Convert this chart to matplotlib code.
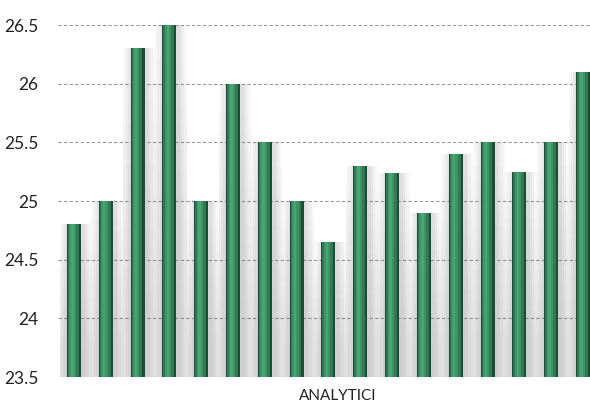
import matplotlib.pyplot as plt
import numpy as np

values = [24.8, 25.0, 26.3, 26.5, 25.0, 26.0, 25.5, 25.0, 24.65,
          25.3, 25.24, 24.9, 25.4, 25.5, 25.25, 25.5, 26.1]
yticks = [23.5, 24, 24.5, 25, 25.5, 26, 26.5]
ytick_labels = ["23.5", "24", "24.5", "25", "25.5", "26", "26.5"]
xlabel = "ANALYTICI"

plt.rcParams["font.family"] = ["Lato", "DejaVu Sans"]

fig = plt.figure(figsize=(5.9, 4.03), dpi=100)
ax = fig.add_axes([58 / 590, 26 / 403, 532 / 590, 352 / 403])

x = np.arange(len(values))
base = 23.5
heights = np.array([v - base for v in values])

# soft shadow behind each bar, darker toward the bottom
for w, a in [(1.0, 0.05), (0.85, 0.06), (0.7, 0.07), (0.58, 0.08)]:
    ax.bar(x + 0.05, heights, bottom=base, width=w, color="#808080",
           alpha=a, linewidth=0, zorder=1)
for frac in np.linspace(0.9, 0.2, 12):
    ax.bar(x + 0.05, heights * frac, bottom=base, width=1.0, color="#808080",
           alpha=0.013, linewidth=0, zorder=1)

# bar body with darker edges and lighter centre
ax.bar(x, heights, bottom=base, width=0.44, color="#1e4d33", linewidth=0, zorder=3)
ax.bar(x - 0.02, heights, bottom=base, width=0.34, color="#2f7a52", linewidth=0, zorder=4)
ax.bar(x - 0.04, heights, bottom=base, width=0.2, color="#3f9467", linewidth=0, zorder=5)
ax.bar(x - 0.05, heights, bottom=base, width=0.08, color="#4aa576", linewidth=0, zorder=6)

ax.set_xlim(-0.5, 16.22)
ax.set_ylim(23.5, 26.5)
ax.set_yticks(yticks)
ax.set_yticklabels(ytick_labels, fontsize=12.5, color="#222222")
ax.set_xticks([])
ax.tick_params(axis="y", length=0, pad=14)
for s in ax.spines.values():
    s.set_visible(False)
ax.grid(axis="y", linestyle=(0, (3, 2)), color="#999999", linewidth=0.8, zorder=0)
ax.set_axisbelow(True)

fig.text(338 / 590, 7 / 403, xlabel, ha="center", va="center", fontsize=11, color="#222222")

fig.savefig("out.png", dpi=100)
